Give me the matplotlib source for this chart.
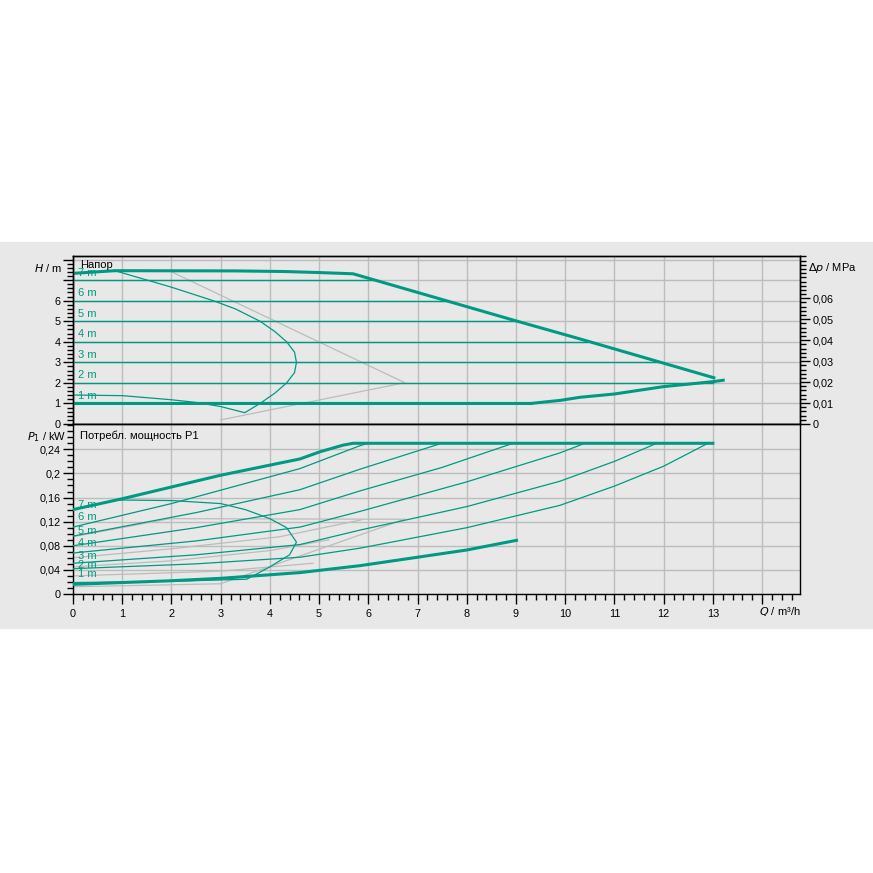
import matplotlib
matplotlib.use("Agg")
import matplotlib.pyplot as plt
import numpy as np
from matplotlib.patches import Rectangle
from matplotlib.ticker import MultipleLocator, FixedLocator, FuncFormatter

plt.rcParams['font.family'] = ['Liberation Sans', 'DejaVu Sans']
plt.rcParams['font.size'] = 7.8

TEAL = '#009a82'
GRID = '#bdbdbd'
GREYLN = '#bcbcbc'
BG = '#e8e8e8'

# ---- head diagram data (Q in m3/h, H in m)
h_levels = [1, 2, 3, 4, 5, 6, 7]
h_level_end = [9.3, 13.0, 11.93, 10.45, 9.0, 7.57, 6.1]
h_labels = ['1 m', '2 m', '3 m', '4 m', '5 m', '6 m', '7 m']

max_q = [0.0, 0.85, 3.3, 4.3, 5.0, 5.69, 8.94, 10.3, 13.02]
max_h = [7.33, 7.46, 7.45, 7.42, 7.37, 7.31, 5.06, 4.14, 2.25]

min_q = [0.0, 9.3, 9.9, 10.3, 11.0, 12.0, 13.0, 13.21]
min_h = [1.0, 1.0, 1.15, 1.3, 1.46, 1.82, 2.06, 2.13]

loop_q = [0.85, 1.97, 2.85, 3.3, 3.8, 4.1, 4.34, 4.5, 4.54, 4.5, 4.34, 4.1, 3.8, 3.49,
          3.0, 2.5, 2.0, 1.0, 0.0]
loop_h = [7.46, 6.68, 6.0, 5.6, 5.0, 4.5, 4.0, 3.5, 3.0, 2.5, 2.0, 1.5, 1.0, 0.55,
          0.85, 1.05, 1.18, 1.38, 1.41]

grey_top_q = [1.97, 6.74, 3.0]
grey_top_h = [7.44, 2.01, 0.2]

# ---- power diagram data (P1 in kW)
p_max_q = [0.0, 1.0, 3.0, 4.61, 5.02, 5.49, 5.69, 13.0]
p_max_p = [0.14, 0.158, 0.197, 0.224, 0.236, 0.247, 0.25, 0.25]

p_min_q = [0.0, 2.0, 3.0, 4.61, 5.83, 7.0, 8.0, 9.01]
p_min_p = [0.016, 0.022, 0.026, 0.0355, 0.047, 0.061, 0.073, 0.089]

p_curves = [
    ([0.0, 2.0, 4.61, 5.83, 6.0], [0.111, 0.15, 0.208, 0.246, 0.25]),
    ([0.0, 2.5, 4.61, 5.83, 7.49], [0.096, 0.135, 0.173, 0.207, 0.25]),
    ([0.0, 2.5, 4.61, 5.83, 7.5, 8.94], [0.08, 0.11, 0.14, 0.171, 0.21, 0.25]),
    ([0.0, 2.5, 4.61, 5.83, 8.0, 9.89, 10.4], [0.068, 0.088, 0.111, 0.137, 0.186, 0.234, 0.25]),
    ([0.0, 2.5, 4.61, 5.83, 8.0, 9.89, 11.0, 11.86], [0.051, 0.065, 0.082, 0.106, 0.145, 0.187, 0.22, 0.25]),
    ([0.0, 2.5, 4.61, 5.83, 8.0, 9.89, 11.0, 12.0, 12.9], [0.042, 0.05, 0.061, 0.076, 0.11, 0.147, 0.179, 0.212, 0.25]),
]
p_label_y = [0.034, 0.048, 0.063, 0.084, 0.104, 0.127, 0.148]

p_loop_q = [0.85, 2.0, 3.0, 3.5, 4.0, 4.34, 4.54, 4.4, 4.0, 3.53, 2.0, 0.0]
p_loop_p = [0.156, 0.155, 0.15, 0.14, 0.125, 0.11, 0.086, 0.065, 0.045, 0.0245, 0.021, 0.019]

grey_bottom = [
    ([0.0, 1.97, 6.74], [0.095, 0.125, 0.124]),
    ([3.0, 6.74], [0.017, 0.124]),
    ([0.0, 2.0, 4.2, 5.86], [0.06, 0.075, 0.095, 0.123]),
    ([0.0, 2.0, 4.0, 5.2], [0.045, 0.055, 0.072, 0.09]),
    ([0.0, 3.02, 4.88], [0.03, 0.038, 0.051]),
    ([0.0, 3.0], [0.012, 0.017]),
]

fig = plt.figure(figsize=(8.73, 8.73), dpi=100)
fig.patches.append(Rectangle((0, 1 - 628 / 873), 1, (628 - 242) / 873,
                             transform=fig.transFigure, color=BG, zorder=-10))

left, width = 73 / 873, 727 / 873
ax1 = fig.add_axes([left, 1 - 424 / 873, width, 168.3 / 873])
ax2 = fig.add_axes([left, 1 - 594 / 873, width, 170 / 873])

xmax = 14.77
for ax in (ax1, ax2):
    ax.set_facecolor(BG)
    ax.set_xlim(0, xmax)
    for s in ax.spines.values():
        s.set_color('black')
        s.set_linewidth(1.0)
    ax.xaxis.set_major_locator(MultipleLocator(1))
    ax.xaxis.set_minor_locator(MultipleLocator(0.2))
    ax.grid(True, which='major', color=GRID, linewidth=1.0)
    ax.set_axisbelow(True)
    ax.tick_params(which='major', direction='out', length=7, width=1, color='black', pad=2)
    ax.tick_params(which='minor', direction='out', length=4, width=1, color='black')

# ---------- top
ax1.set_ylim(0, 8.19)
ax1.yaxis.set_major_locator(MultipleLocator(1))
ax1.yaxis.set_minor_locator(MultipleLocator(0.2))
ax1.yaxis.set_major_formatter(FuncFormatter(lambda v, p: '%d' % v if v <= 6.5 else ''))
ax1.tick_params(axis='x', which='both', bottom=False, labelbottom=False)

for h, qe, lab in zip(h_levels, h_level_end, h_labels):
    ax1.plot([0, qe], [h, h], color=TEAL, lw=1.0 if h > 1 else 2.0, zorder=3)
    ax1.text(0.1, h + 0.12, lab, color=TEAL, fontsize=8, va='bottom', ha='left', zorder=4)

ax1.plot(grey_top_q, grey_top_h, color=GREYLN, lw=0.9, zorder=2)
ax1.plot(max_q, max_h, color=TEAL, lw=2.2, zorder=5)
ax1.plot(min_q, min_h, color=TEAL, lw=2.2, zorder=5)
ax1.plot(loop_q, loop_h, color=TEAL, lw=0.9, zorder=4)
ax1.text(0.15, 7.75, 'Напор', color='black', fontsize=8, va='center', ha='left', zorder=6)

ax1r = ax1.twinx()
ax1r.set_ylim(0, 8.19 * 0.0098067)
ax1r.yaxis.set_major_locator(FixedLocator([0, 0.01, 0.02, 0.03, 0.04, 0.05, 0.06]))
ax1r.yaxis.set_minor_locator(MultipleLocator(0.002))
ax1r.yaxis.set_major_formatter(FuncFormatter(lambda v, p: ('%g' % round(v, 3)).replace('.', ',')))
ax1r.tick_params(which='major', direction='out', length=7, width=1, pad=2)
ax1r.tick_params(which='minor', direction='out', length=4, width=1)
for s in ax1r.spines.values():
    s.set_linewidth(1.0)

fig.text(62 / 873, 1 - 268 / 873, r'$H$ / m', ha='right', va='center', fontsize=8)
fig.text(808 / 873, 1 - 268 / 873, r'$\Delta p$ / MPa', ha='left', va='center', fontsize=8)

# ---------- bottom
ax2.set_ylim(0, 0.282)
ax2.yaxis.set_major_locator(FixedLocator([0, 0.04, 0.08, 0.12, 0.16, 0.2, 0.24]))
ax2.yaxis.set_minor_locator(MultipleLocator(0.01))
ax2.yaxis.set_major_formatter(FuncFormatter(lambda v, p: ('%g' % round(v, 3)).replace('.', ',')))
ax2.xaxis.set_major_formatter(FuncFormatter(lambda v, p: '%d' % v if v <= 13.5 else ''))
ax2.tick_params(axis='y', which='both', right=False)
ax2.tick_params(axis='x', which='major', pad=4)

for qs, ps in grey_bottom:
    ax2.plot(qs, ps, color=GREYLN, lw=0.9, zorder=2)
for qs, ps in p_curves:
    ax2.plot(qs, ps, color=TEAL, lw=0.9, zorder=3)
ax2.plot(p_max_q, p_max_p, color=TEAL, lw=2.2, zorder=5)
ax2.plot(p_min_q, p_min_p, color=TEAL, lw=2.2, zorder=5)
ax2.plot(p_loop_q, p_loop_p, color=TEAL, lw=0.9, zorder=4)
for lab, py in zip(h_labels, p_label_y):
    ax2.text(0.1, py, lab, color=TEAL, fontsize=8, va='center', ha='left', zorder=6)
ax2.text(0.15, 0.262, 'Потребл. мощность P1', color='black', fontsize=8, va='center', ha='left')

fig.text(66 / 873, 1 - 437 / 873, r'$P_1$ / kW', ha='right', va='center', fontsize=8)
fig.text(780 / 873, 1 - 612 / 873, r'$Q$ / m³/h', ha='center', va='center', fontsize=8)

fig.savefig('out.png', dpi=100)
